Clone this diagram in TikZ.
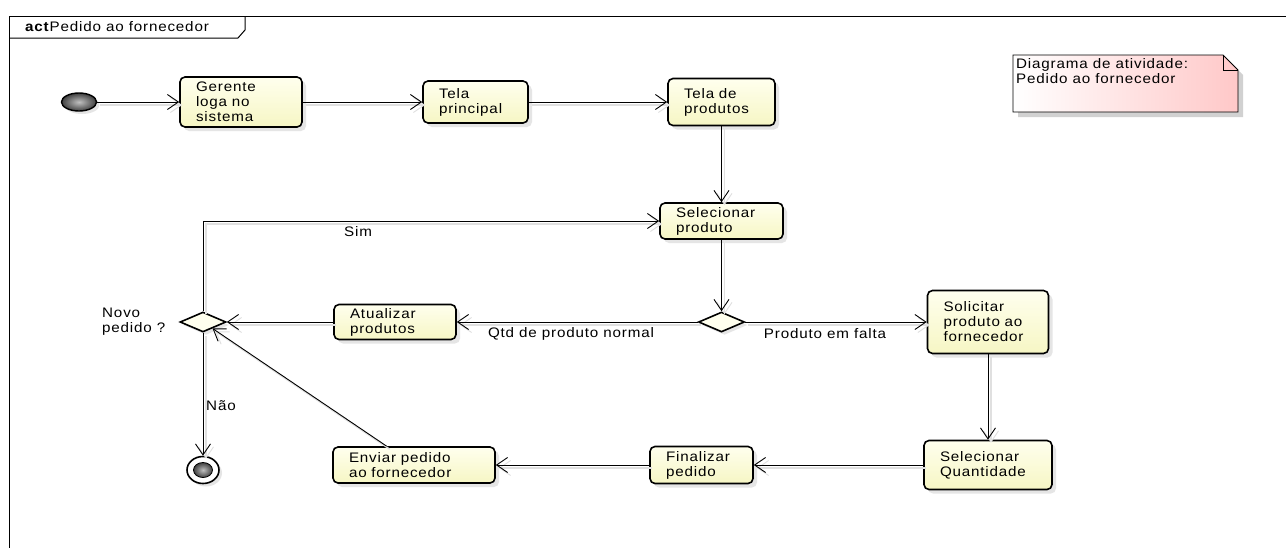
\documentclass[tikz,border=0pt]{standalone}
\usepackage{fontspec}
\setmainfont{Liberation Sans}[FakeStretch=1.1,LetterSpace=6]
\usetikzlibrary{arrows.meta,shapes.geometric,shadows,calc}
\definecolor{ylight}{RGB}{255,255,238}
\definecolor{ydark}{RGB}{246,246,196}
\definecolor{pinkr}{RGB}{255,200,200}
\tikzset{
  txt/.style={font=\fontsize{13.8}{15}\selectfont},
  actbox/.style={txt, draw=black, line width=1.6pt, rounded corners=5pt,
    top color=ylight, bottom color=ydark,
    drop shadow={shadow xshift=4pt, shadow yshift=-4pt, fill=black!20},
    align=left, inner xsep=16pt, inner ysep=0pt},
  decision/.style={diamond, draw=black, line width=1.6pt, fill=ylight,
    minimum width=46pt, minimum height=20pt, inner sep=0pt,
    drop shadow={shadow xshift=3pt, shadow yshift=-3pt, fill=black!20}},
  flow/.style={line width=0.9pt, draw=black,
    -{Straight Barb[length=11pt,width=15pt,line width=0.9pt]},
    preaction={draw=black!12, line width=1.4pt,
      transform canvas={shift={(3pt,-3pt)}}}},
  lbl/.style={txt, inner sep=0pt},
}
\begin{document}
\begin{tikzpicture}[x=1pt,y=-1pt]
\useasboundingbox (0,0) rectangle (1286,547);
\fill[white] (0,0) rectangle (1286,547);
\clip (0,0) rectangle (1286,547);

% frame
\draw[line width=1pt] (9,560) -- (9,16) -- (1300,16);
\draw[line width=1pt] (9,38) -- (238,38) -- (245,30) -- (245,16);
\node[lbl, anchor=west] (title) at (25,27) {\textbf{act}Pedido ao fornecedor};

% note
\fill[black!18] (1018,60) -- (1228,60) -- (1243,75) -- (1243,117) -- (1018,117) -- cycle;
\shade[left color=white, right color=pinkr, draw=black, line width=0.8pt]
  (1013,55) -- (1223,55) -- (1238,70) -- (1238,112) -- (1013,112) -- cycle;
\draw[line width=0.8pt] (1223,55) -- (1223,70) -- (1238,70);
\node[lbl, anchor=north west, align=left] (note) at (1016,58)
  {Diagrama de atividade:\\Pedido ao fornecedor};

% initial and final
\node[ellipse, draw=black, line width=1.4pt, minimum width=35pt, minimum height=18pt,
  inner sep=0pt, inner color=black!25, outer color=black!75,
  drop shadow={shadow xshift=3pt, shadow yshift=-3pt, fill=black!20}] (init) at (79,102) {};
\node[ellipse, draw=black, line width=1.6pt, fill=white, minimum width=32pt, minimum height=27pt,
  inner sep=0pt, drop shadow={shadow xshift=3pt, shadow yshift=-3pt, fill=black!20}] (end) at (203,470) {};
\node[ellipse, draw=black, line width=0.8pt, minimum width=19pt, minimum height=15pt,
  inner sep=0pt, inner color=black!25, outer color=black!75] (endin) at (end) {};

% actions
\node[actbox, text width=90pt, minimum height=50pt] (g) at (241,102) {Gerente\\loga~no\\sistema};
\node[actbox, text width=73pt, minimum height=42pt] (tp) at (475.5,102) {Tela\\principal};
\node[actbox, text width=75pt, minimum height=47pt] (tdp) at (721.5,102) {Tela~de\\produtos};
\node[actbox, text width=91pt, minimum height=36pt] (sp) at (721.5,221) {Selecionar\\produto};
\node[actbox, text width=90pt, minimum height=35pt] (at) at (395,322) {Atualizar\\produtos};
\node[actbox, text width=89pt, minimum height=63pt] (sol) at (988,322) {Solicitar\\produto~ao\\fornecedor};
\node[actbox, text width=96pt, minimum height=49pt] (sq) at (988,465) {Selecionar\\Quantidade};
\node[actbox, text width=71pt, minimum height=37pt] (fin) at (701.5,465) {Finalizar\\pedido};
\node[actbox, text width=130pt, minimum height=36pt] (env) at (414,465) {Enviar~pedido\\ao~fornecedor};

% decisions
\node[decision] (d1) at (721.5,322) {};
\node[decision] (d2) at (203,322) {};

% labels
\node[lbl, anchor=west, align=left] (novo) at (102,322) {Novo\\pedido ?};
\node[lbl] (lsim) at (358,232) {Sim};
\node[lbl] (lnao) at (221,406) {Não};
\node[lbl] (lqtd) at (571,334) {Qtd de produto normal};
\node[lbl] (lfalta) at (825,334) {Produto em falta};

% connectors
\draw[flow] (init) -- (g);
\draw[flow] (g) -- (tp);
\draw[flow] (tp) -- (tdp);
\draw[flow] (tdp) -- (sp);
\draw[flow] (sp) -- (d1);
\draw[flow] (d1) -- (at);
\draw[flow] (d1) -- (sol);
\draw[flow] (at) -- (d2);
\draw[flow] (d2.north) |- (sp.west);
\draw[flow] (d2) -- (end);
\draw[flow] (sol) -- (sq);
\draw[flow] (sq) -- (fin);
\draw[flow] (fin) -- (env);
\coordinate (envtop) at ($(env.north west)!0.333!(env.north east)$);
\draw[flow] (envtop) -- (d2);
\end{tikzpicture}
\end{document}
